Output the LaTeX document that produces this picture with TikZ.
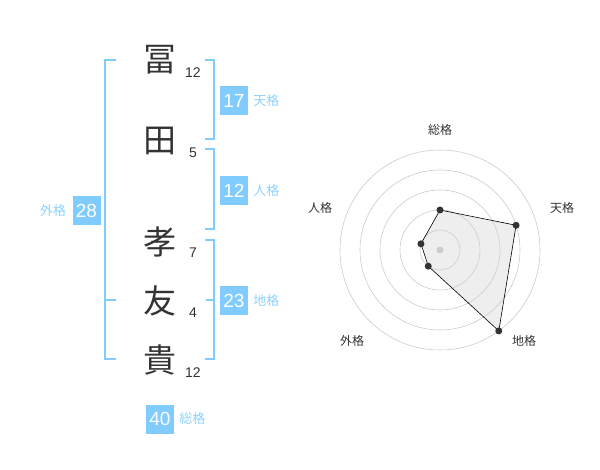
\documentclass[tikz,border=0pt]{standalone}
\usepackage{fontspec}
\setmainfont{Liberation Sans}
\newfontfamily\jp{Noto Sans CJK JP}
\usetikzlibrary{positioning}
\definecolor{kakublue}{RGB}{128,204,255}
\definecolor{labelblue}{RGB}{140,210,255}
\definecolor{inkgray}{RGB}{51,51,51}
\definecolor{ringgray}{RGB}{204,204,204}
\definecolor{polyfill}{RGB}{238,238,238}

\begin{document}
\begin{tikzpicture}[x=1pt,y=-1pt]
  \tikzstyle{kanji}=[font=\jp\fontsize{33}{33}\selectfont,text=inkgray,inner sep=0pt]
  \tikzstyle{strokes}=[font=\fontsize{14}{14}\selectfont,text=inkgray,inner sep=0pt]
  \tikzstyle{kaku}=[fill=kakublue,text=white,minimum width=28pt,minimum height=29pt,inner sep=0pt,font=\fontsize{19}{19}\selectfont]
  \tikzstyle{kakulabel}=[font=\jp\fontsize{13}{13}\selectfont,text=labelblue,inner sep=0pt]
  \tikzstyle{bracket}=[draw=kakublue,line width=1.6pt]
  \tikzstyle{ring}=[draw=ringgray,line width=0.6pt]
  \tikzstyle{axislabel}=[font=\jp\fontsize{12}{12}\selectfont,text=inkgray,inner sep=0pt]
  \tikzstyle{dot}=[circle,fill=inkgray,minimum size=7pt,inner sep=0pt]
  \useasboundingbox (0,0) rectangle (600,470);

  % name
  \node[kanji] (c1) at (160,60)  {冨};
  \node[kanji] (c2) at (160,141) {田};
  \node[kanji] (c3) at (160,242) {孝};
  \node[kanji] (c4) at (160,301) {友};
  \node[kanji] (c5) at (160,360) {貴};

  \node[strokes] (n1) at (193,73)  {12};
  \node[strokes] (n2) at (193,153) {5};
  \node[strokes] (n3) at (193,253) {7};
  \node[strokes] (n4) at (193,313) {4};
  \node[strokes] (n5) at (193,373) {12};

  % brackets
  \draw[bracket] (116,60) -- (105,60) -- (105,359) -- (116,359);
  \draw[bracket] (105,300) -- (116,300);
  \draw[bracket] (205,60) -- (214,60) -- (214,139) -- (205,139);
  \draw[bracket] (205,149) -- (214,149) -- (214,229) -- (205,229);
  \draw[bracket] (205,240) -- (214,240) -- (214,359) -- (205,359);
  \draw[bracket] (206,300) -- (214,300);

  \node[kaku] (ten) at (234,100.5) {17};
  \node[kakulabel] (tenL) [right=5pt of ten] {天格};
  \node[kaku] (jin) at (234,190.5) {12};
  \node[kakulabel] (jinL) [right=5pt of jin] {人格};
  \node[kaku] (chi) at (234,300.5) {23};
  \node[kakulabel] (chiL) [right=5pt of chi] {地格};
  \node[kaku] (gai) at (86.5,210.5) {28};
  \node[kakulabel] (gaiL) [left=6pt of gai] {外格};
  \node[kaku] (so) at (160,419) {40};
  \node[kakulabel] (soL) [right=5pt of so] {総格};

  % radar
  \begin{scope}[shift={(440,250)},y=1pt]
    \coordinate (pSo)  at (90:40);
    \coordinate (pTen) at (18:80);
    \coordinate (pChi) at (-54:100);
    \coordinate (pGai) at (-126:20);
    \coordinate (pJin) at (162:20);
    \fill[polyfill] (pSo) -- (pTen) -- (pChi) -- (pGai) -- (pJin) -- cycle;
    \foreach \r in {20,40,...,100}
      \draw[ring] (0,0) circle (\r);
    \fill[ringgray] (0,0) circle (3.5);
    \draw[black,line width=0.6pt] (pSo) -- (pTen) -- (pChi) -- (pGai) -- (pJin) -- cycle;
    \node[dot] (dSo)  at (pSo)  {};
    \node[dot] (dTen) at (pTen) {};
    \node[dot] (dChi) at (pChi) {};
    \node[dot] (dGai) at (pGai) {};
    \node[dot] (dJin) at (pJin) {};

    \node[axislabel] (aSo)  at (0,120)    {総格};
    \node[axislabel] (aTen) at (122,42)   {天格};
    \node[axislabel] (aChi) at (84,-91)   {地格};
    \node[axislabel] (aGai) at (-88,-91)  {外格};
    \node[axislabel] (aJin) at (-120,42)  {人格};
  \end{scope}
\end{tikzpicture}
\end{document}
